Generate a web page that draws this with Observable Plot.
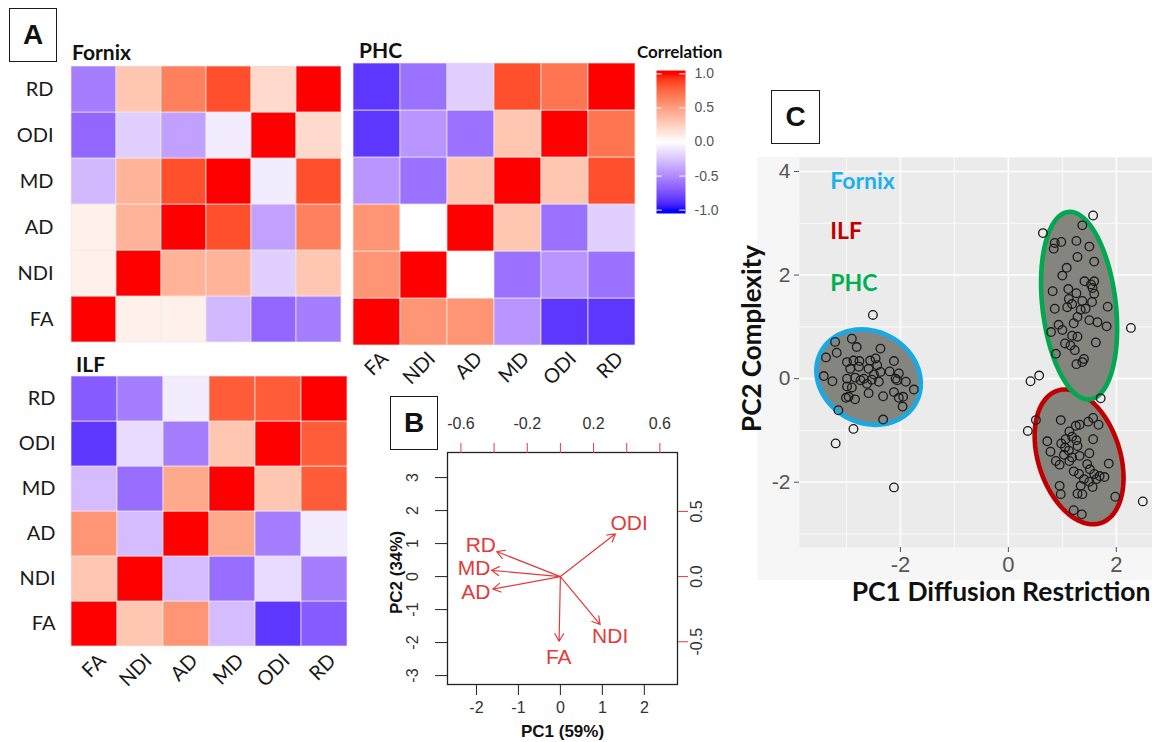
<!DOCTYPE html>
<html>
<head>
<meta charset="utf-8">
<script src="https://cdn.jsdelivr.net/npm/d3@7"></script>
<script src="https://cdn.jsdelivr.net/npm/@observablehq/plot@0.6"></script>
<style>
html,body{margin:0;padding:0;background:#fff;}
#root{position:relative;width:1152px;height:742px;overflow:hidden;background:#fff;}
#root svg{position:absolute;overflow:visible;}
.lbl{position:absolute;white-space:nowrap;line-height:1;font-family:Lato,"Open Sans",sans-serif;}
.box{position:absolute;border:1.5px solid #1a1a1a;box-sizing:border-box;display:flex;align-items:center;justify-content:center;font:bold 28px "Liberation Sans",Arial,sans-serif;color:#111;background:#fff;}
</style>
</head>
<body>
<div id="root"></div>
<script>
// ---------------- DATA ----------------
const metrics = ["FA", "NDI", "AD", "MD", "ODI", "RD"];
const rowOrder = ["RD", "ODI", "MD", "AD", "NDI", "FA"];

// correlation matrices, rows/cols in `metrics` order
const fornixCorr = [
  [1, 0.08, 0.08, -0.3, -0.65, -0.55],
  [0.08, 1, 0.4, 0.4, -0.2, 0.3],
  [0.08, 0.4, 1, 0.85, -0.4, 0.65],
  [-0.3, 0.4, 0.85, 1, -0.08, 0.85],
  [-0.65, -0.2, -0.4, -0.08, 1, 0.2],
  [-0.55, 0.3, 0.65, 0.85, 0.2, 1]
];
const phcCorr = [
  [1, 0.55, 0.55, -0.45, -0.85, -0.85],
  [0.55, 1, 0.0, -0.6, -0.45, -0.6],
  [0.55, 0.0, 1, 0.3, -0.6, -0.2],
  [-0.45, -0.6, 0.3, 1, 0.3, 0.85],
  [-0.85, -0.45, -0.6, 0.3, 1, 0.7],
  [-0.85, -0.6, -0.2, 0.85, 0.7, 1]
];
const ilfCorr = [
  [1, 0.3, 0.55, -0.28, -0.85, -0.7],
  [0.3, 1, -0.28, -0.62, -0.15, -0.55],
  [0.55, -0.28, 1, 0.45, -0.55, -0.08],
  [-0.28, -0.62, 0.45, 1, 0.3, 0.8],
  [-0.85, -0.15, -0.55, 0.3, 1, 0.8],
  [-0.7, -0.55, -0.08, 0.8, 0.8, 1]
];
const legendTicks = [-1, -0.5, 0, 0.5, 1];

// Panel B: biplot loadings
const loadingNames = ["ODI", "RD", "MD", "AD", "FA", "NDI"];
const loadingPC1 = [0.415, -0.48, -0.52, -0.51, -0.01, 0.30];
const loadingPC2 = [0.41, 0.24, 0.06, -0.12, -0.62, -0.46];
const scoreTicksX = [-2, -1, 0, 1, 2];
const scoreTicksY = [-3, -2, -1, 0, 1, 2, 3];
const loadTicksTop = [-0.6, -0.4, -0.2, 0, 0.2, 0.4, 0.6];
const loadLabelsTop = [-0.6, -0.2, 0.2, 0.6];
const loadTicksRight = [-0.5, 0, 0.5];
const loadScale = 3.95; // ratio of score axis to loading axis

// Panel C: PCA scores
const fornixPts = [[-2.51,1.23],[-2.87,-0.97],[-3.20,-1.25],[-2.12,-2.10],[-3.21,0.71],[-2.90,0.77],[-2.81,0.61],[-3.18,0.50],[-2.37,0.58],[-3.38,0.41],[-2.99,0.32],[-2.87,0.35],[-2.76,0.34],[-2.56,0.35],[-2.46,0.39],[-2.12,0.34],[-2.93,0.19],[-2.77,0.23],[-2.59,0.19],[-2.43,0.26],[-2.37,0.13],[-2.20,0.14],[-2.03,0.10],[-3.42,0.05],[-3.26,-0.05],[-2.99,0.00],[-2.84,0.02],[-2.68,0.00],[-2.53,-0.02],[-2.40,-0.06],[-2.09,0.00],[-2.06,-0.03],[-1.90,-0.06],[-2.99,-0.15],[-2.90,-0.17],[-2.62,-0.10],[-2.59,-0.28],[-2.96,-0.35],[-3.01,-0.37],[-2.84,-0.40],[-2.32,-0.34],[-2.12,-0.26],[-2.03,-0.37],[-1.95,-0.35],[-1.96,-0.54],[-1.75,-0.21],[-3.15,-0.61],[-2.32,-0.79],[-2.49,0.08],[-2.74,-0.03]];
const ilfPts = [[1.71,-0.38],[0.51,-0.80],[0.36,-1.01],[0.97,-0.80],[1.13,-1.02],[1.25,-0.91],[1.32,-0.89],[1.48,-0.83],[1.57,-0.76],[1.67,-0.89],[0.72,-1.21],[0.98,-1.25],[1.26,-1.19],[1.57,-1.17],[0.78,-1.41],[1.05,-1.33],[1.12,-1.39],[1.28,-1.30],[1.03,-1.47],[1.18,-1.52],[1.32,-1.49],[1.50,-1.44],[0.95,-1.66],[1.13,-1.59],[1.86,-1.64],[1.21,-1.79],[1.31,-1.84],[1.51,-1.75],[1.59,-1.84],[1.69,-1.88],[1.78,-1.90],[1.40,-1.94],[1.50,-1.99],[1.63,-1.94],[1.34,-2.07],[1.56,-2.09],[0.95,-2.07],[0.97,-2.23],[1.28,-2.22],[1.37,-2.23],[1.98,-2.28],[2.49,-2.37],[1.21,-2.54],[1.36,-2.62],[1.18,-1.12],[0.88,-1.59],[1.46,-1.65],[1.06,-1.17]];
const phcPts = [[1.57,3.15],[1.37,2.96],[0.64,2.81],[0.86,2.62],[0.98,2.64],[0.84,2.51],[1.26,2.66],[1.50,2.55],[1.28,2.35],[1.59,2.26],[1.08,2.14],[1.00,1.99],[1.41,1.88],[1.59,1.88],[1.56,1.75],[0.82,1.69],[1.11,1.73],[1.26,1.65],[1.59,1.64],[1.12,1.54],[1.37,1.50],[1.55,1.48],[1.09,1.38],[1.43,1.35],[0.86,1.35],[1.84,1.39],[1.34,1.33],[1.28,1.19],[1.50,1.13],[1.65,1.09],[1.82,1.01],[2.27,0.98],[1.21,1.07],[0.93,1.04],[0.79,0.90],[1.00,0.94],[1.18,0.83],[1.28,0.81],[1.62,0.70],[1.05,0.68],[1.15,0.64],[1.23,0.55],[0.88,0.48],[1.40,0.38],[1.26,0.28],[1.37,0.32],[0.57,0.06],[0.41,-0.05],[1.18,1.44],[1.53,1.82]];

// confidence ellipses (order: Fornix, ILF, PHC)
const ellipseGroups = ["Fornix", "ILF", "PHC"];
const ellipseCX = [-2.59, 1.31, 1.31];
const ellipseCY = [0.03, -1.51, 1.41];
const ellipseA = [1.01, 1.34, 1.82];
const ellipseB = [0.875, 0.76, 0.68];
const ellipseAngle = [145, 106.7, 96.3];

// ---------------- STYLE ----------------
const colorOpts = {type: "linear", domain: [-1, 0, 1], range: ["blue", "white", "red"], interpolate: "lab", clamp: true};
const bRed = "#e23b3b";
const groupColor = {Fornix: "#1aa9e4", ILF: "#c00000", PHC: "#00a84f"};
const groupText = {Fornix: "#1cb0ee", ILF: "#c00000", PHC: "#00b050"};
const plain = d => String(d);

const root = document.getElementById("root");
function place(el, left, top) { el.style.left = left + "px"; el.style.top = top + "px"; root.appendChild(el); return el; }
function label(text, left, top, css) { const d = document.createElement("div"); d.className = "lbl"; d.textContent = text; d.style.cssText += css; return place(d, left, top); }
function box(text, left, top, w, h) { const d = document.createElement("div"); d.className = "box"; d.textContent = text; d.style.width = w + "px"; d.style.height = h + "px"; return place(d, left, top); }

// ---------------- HEATMAPS ----------------
function heatmap(mat, o) {
  const data = [];
  metrics.forEach((r, i) => metrics.forEach((c, j) => data.push({row: r, col: c, value: mat[i][j]})));
  const marks = [
    Plot.cell(data, {x: "col", y: "row", fill: "value", stroke: "#f0eaea", strokeOpacity: 0.7, strokeWidth: 1, inset: 0})
  ];
  if (o.yLabels) marks.push(Plot.axisY({tickSize: 0, tickPadding: o.yPad, fontSize: 20, fill: "#1a1a1a", label: null}));
  if (o.xLabels) marks.push(Plot.text(metrics, {x: d => d, text: d => d, frameAnchor: "bottom", rotate: -45, textAnchor: "end", lineAnchor: "middle", dx: 8, dy: 10, fontSize: 20, fill: "#1a1a1a"}));
  return Plot.plot({
    width: o.width, height: o.height,
    marginLeft: o.mL, marginRight: o.mR, marginTop: o.mT, marginBottom: o.mB,
    style: {fontFamily: "Lato, 'Open Sans', sans-serif", background: "transparent"},
    x: {domain: metrics, padding: 0, axis: null},
    y: {domain: rowOrder, padding: 0, axis: null},
    color: colorOpts,
    marks
  });
}

place(heatmap(fornixCorr, {width: 350, height: 345, mL: 69, mR: 7, mT: 66, mB: 3, yLabels: true, yPad: 16}), 0, 0);
place(heatmap(phcCorr, {width: 300, height: 390, mL: 8, mR: 10, mT: 63, mB: 45, xLabels: true}), 345, 0);
place(heatmap(ilfCorr, {width: 355, height: 397, mL: 71, mR: 8, mT: 29, mB: 95, yLabels: true, yPad: 16, xLabels: true}), 0, 345);

// legend
const legend = Plot.plot({
  width: 100, height: 170, marginLeft: 16, marginRight: 55, marginTop: 10, marginBottom: 17,
  style: {fontFamily: "'Liberation Sans', Arial, sans-serif", background: "transparent"},
  x: {domain: [0, 1], axis: null},
  y: {domain: [-1.05, 1.05], axis: null},
  color: colorOpts,
  marks: [
    Plot.raster({x1: 0, x2: 1, y1: -1.05, y2: 1.05, width: 2, height: 143, fill: (x, y) => y}),
    Plot.ruleY(legendTicks, {x1: 0, x2: 0.2, stroke: "white", strokeWidth: 1}),
    Plot.ruleY(legendTicks, {x1: 0.8, x2: 1, stroke: "white", strokeWidth: 1}),
    Plot.text(legendTicks, {y: d => d, frameAnchor: "right", dx: 9, textAnchor: "start", text: d => d.toFixed(1), fontSize: 14, fill: "#555"})
  ]
});
place(legend, 640, 60);

// ---------------- PANEL B ----------------
const loadIdx = d3.range(loadingNames.length);
const panelB = Plot.plot({
  width: 330, height: 352, marginLeft: 67, marginRight: 33, marginTop: 62, marginBottom: 58,
  style: {fontFamily: "'Liberation Sans', Arial, sans-serif", background: "transparent", color: "#333"},
  x: {domain: [-2.69, 2.79], axis: null},
  y: {domain: [-3.27, 3.76], axis: null},
  marks: [
    Plot.frame({stroke: "#222", strokeWidth: 1.3}),
    Plot.axisX(scoreTicksX, {anchor: "bottom", tickSize: 11, tickPadding: 6, fontSize: 16, fill: "#333", stroke: "#222", label: null, tickFormat: plain}),
    Plot.axisY(scoreTicksY, {anchor: "left", tickSize: 12, tickFormat: () => "", stroke: "#222", label: null}),
    Plot.text(scoreTicksY, {y: d => d, frameAnchor: "left", dx: -35, rotate: -90, text: plain, fontSize: 16, fill: "#333", textAnchor: "middle", lineAnchor: "middle"}),
    Plot.axisX(loadTicksTop.map(v => v * loadScale), {anchor: "top", tickSize: 10, tickFormat: () => "", stroke: bRed, label: null}),
    Plot.text(loadLabelsTop, {x: d => d * loadScale, frameAnchor: "top", dy: -29, text: d => d.toFixed(1), fontSize: 16, fill: "#333", lineAnchor: "middle", textAnchor: "middle"}),
    Plot.axisY(loadTicksRight.map(v => v * loadScale), {anchor: "right", tickSize: 10, tickFormat: () => "", stroke: bRed, label: null}),
    Plot.text(loadTicksRight, {y: d => d * loadScale, frameAnchor: "right", dx: 19, rotate: -90, text: d => d.toFixed(1), fontSize: 16, fill: "#333", textAnchor: "middle", lineAnchor: "middle"}),
    Plot.arrow(loadIdx, {x1: 0, y1: 0, x2: i => loadingPC1[i] * 0.8 * loadScale, y2: i => loadingPC2[i] * 0.8 * loadScale, stroke: bRed, strokeWidth: 1.2, headLength: 11, headAngle: 60}),
    Plot.text(loadIdx, {x: i => loadingPC1[i] * loadScale, y: i => loadingPC2[i] * loadScale, text: i => loadingNames[i], fill: bRed, fontSize: 21, textAnchor: "middle", lineAnchor: "middle"}),
    Plot.text(["PC1 (59%)"], {frameAnchor: "bottom", dy: 47, fontWeight: "bold", fontSize: 17, fill: "#111", lineAnchor: "middle", textAnchor: "middle"}),
    Plot.text(["PC2 (34%)"], {frameAnchor: "left", dx: -51, dy: 4, rotate: -90, fontWeight: "bold", fontSize: 17, fill: "#111", lineAnchor: "middle", textAnchor: "middle"})
  ]
});
place(panelB, 380, 390);

// ---------------- PANEL C ----------------
const outer = document.createElement("div");
outer.style.cssText = "position:absolute;width:395px;height:423px;background:#f6f6f6;";
place(outer, 757, 157);

function ellipseOutline(i) {
  const th = ellipseAngle[i] * Math.PI / 180;
  return d3.range(0, 360, 3).map(deg => {
    const t = deg * Math.PI / 180;
    return [
      ellipseCX[i] + ellipseA[i] * Math.cos(t) * Math.cos(th) - ellipseB[i] * Math.sin(t) * Math.sin(th),
      ellipseCY[i] + ellipseA[i] * Math.cos(t) * Math.sin(th) + ellipseB[i] * Math.sin(t) * Math.cos(th)
    ];
  });
}
const allPts = [...fornixPts, ...ilfPts, ...phcPts];
const ellipseMarks = ellipseGroups.map((g, i) =>
  Plot.line(ellipseOutline(i), {x: d => d[0], y: d => d[1], curve: "linear-closed", fill: "#84857f", stroke: groupColor[g], strokeWidth: 4.6})
);
const lato = "Lato, 'Open Sans', sans-serif";

const panelC = Plot.plot({
  width: 412, height: 470, marginLeft: 59, marginRight: 0, marginTop: 17, marginBottom: 63,
  style: {fontFamily: "'Liberation Sans', Arial, sans-serif", background: "transparent"},
  x: {domain: [-3.87, 2.67], axis: null},
  y: {domain: [-3.26, 4.27], axis: null},
  marks: [
    Plot.frame({fill: "#ebebeb", stroke: null}),
    Plot.gridX([-3, -1, 1], {stroke: "white", strokeOpacity: 1, strokeWidth: 0.8}),
    Plot.gridY([-3, -1, 1, 3], {stroke: "white", strokeOpacity: 1, strokeWidth: 0.8}),
    Plot.gridX([-2, 0, 2], {stroke: "white", strokeOpacity: 1, strokeWidth: 1.6}),
    Plot.gridY([-2, 0, 2, 4], {stroke: "white", strokeOpacity: 1, strokeWidth: 1.6}),
    Plot.axisX([-2, 0, 2], {tickSize: 5, tickPadding: 4, fontSize: 22, fill: "#555", stroke: "#555", label: null, tickFormat: plain}),
    Plot.axisY([-2, 0, 2, 4], {tickSize: 5, tickPadding: 4, fontSize: 21, fill: "#555", stroke: "#555", label: null, tickFormat: plain}),
    ...ellipseMarks,
    Plot.dot(allPts, {x: d => d[0], y: d => d[1], r: 4.3, stroke: "#1a1a1a", strokeWidth: 1.3, fill: "none"}),
    Plot.text(["Fornix"], {x: -3.3, y: 3.81, textAnchor: "start", fill: groupText.Fornix, fontSize: 23, fontWeight: "bold", fontFamily: lato, lineAnchor: "middle"}),
    Plot.text(["ILF"], {x: -3.3, y: 2.84, textAnchor: "start", fill: groupText.ILF, fontSize: 23, fontWeight: "bold", fontFamily: lato, lineAnchor: "middle"}),
    Plot.text(["PHC"], {x: -3.3, y: 1.84, textAnchor: "start", fill: groupText.PHC, fontSize: 23, fontWeight: "bold", fontFamily: lato, lineAnchor: "middle"}),
    Plot.text(["PC1 Diffusion Restriction"], {frameAnchor: "bottom-right", dx: -2, dy: 45, textAnchor: "end", fill: "#111", fontSize: 26.5, fontWeight: "bold", fontFamily: lato, lineAnchor: "middle"}),
    Plot.text(["PC2 Complexity"], {frameAnchor: "left", dx: -47, dy: -14, rotate: -90, textAnchor: "middle", fill: "#111", fontSize: 26, fontWeight: "bold", fontFamily: lato, lineAnchor: "middle"})
  ]
});
place(panelC, 740, 140);

// ---------------- TITLES & PANEL LETTERS ----------------
label("Fornix", 72, 41.4, "font-size:21px;font-weight:bold;color:#111;");
label("PHC", 359, 39.4, "font-size:21px;font-weight:bold;color:#111;");
label("ILF", 76, 353.4, "font-size:21px;font-weight:bold;color:#111;");
label("Correlation", 637, 43, "font-size:17px;font-weight:bold;color:#111;");
box("A", 9, 8, 48, 54);
box("B", 390, 396, 48, 54);
box("C", 771, 90, 49, 54);
</script>
</body>
</html>
